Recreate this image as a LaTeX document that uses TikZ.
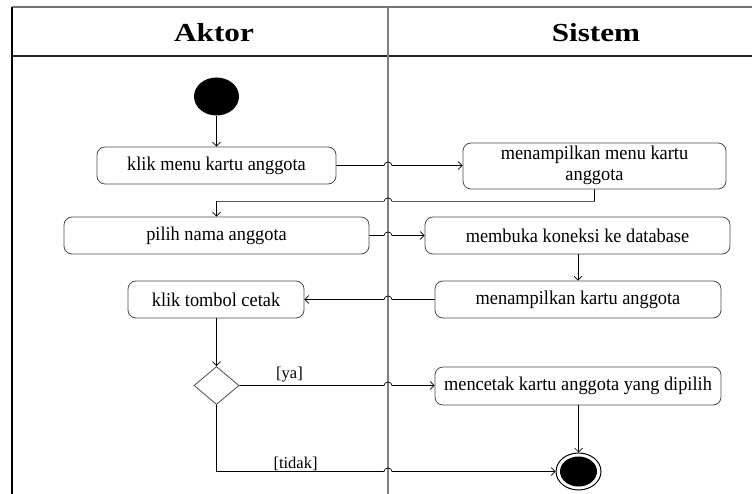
\documentclass[tikz,border=0pt]{standalone}
\usepackage{fontspec}
\usepackage{graphicx}
\setmainfont{Liberation Serif}
\usetikzlibrary{shapes.geometric,calc,arrows.meta}
\newcommand\boxtxt[1]{\scalebox{0.94}[1]{#1}}
\begin{document}
\begin{tikzpicture}[x=1pt,y=1pt,
  act/.style={draw=black!70, line width=0.8pt, rounded corners=8pt, align=center, inner sep=2pt, font=\fontsize{19.5}{21}\selectfont},
  conn/.style={line width=0.7pt, draw=black},
  arr/.style={conn, -{Straight Barb[length=4pt,width=8pt]}},
  guard/.style={font=\fontsize{16.5}{16}\selectfont, inner sep=0pt},
  hdr/.style={font=\fontsize{26}{26}\selectfont\bfseries, inner sep=0pt}]
\useasboundingbox (0,0) rectangle (752,-494);
\fill[white] (0,0) rectangle (752,-494);
% frame and lanes
\draw[black!55, line width=1.2pt] (12,-7) -- (752,-7);
\draw[black, line width=1.5pt] (12,-7) -- (12,-494);
\draw[black!85, line width=1.2pt] (12,-56) -- (752,-56);
\coordinate (dv) at (388,0);
\draw[black!50, line width=1.5pt] (388,-7) -- (388,-494);
\node[hdr] (hA) at (214,-33) {\scalebox{1.2}[1]{Aktor}};
\node[hdr] (hS) at (596,-33) {\scalebox{1.2}[1]{Sistem}};
% nodes
\node[ellipse, fill=black, inner sep=0pt, minimum width=45pt, minimum height=38pt] (start) at (216.5,-96.5) {};
\node[act, minimum width=239pt, minimum height=37pt] (b1) at (216.5,-165.5) {\boxtxt{klik menu kartu anggota}};
\node[act, minimum width=263pt, minimum height=46pt, inner sep=1pt] (b2) at (594.5,-166) {\boxtxt{\begin{tabular}{@{}c@{}}menampilkan menu kartu\\anggota\end{tabular}}};
\node[act, minimum width=305pt, minimum height=37pt] (b3) at (216.5,-235.5) {\boxtxt{pilih nama anggota}};
\node[act, minimum width=305pt, minimum height=37pt] (b4) at (577.5,-235.5) {\boxtxt{membuka koneksi ke database}};
\node[act, minimum width=286pt, minimum height=37pt] (b5) at (578,-299.5) {\boxtxt{menampilkan kartu anggota}};
\node[act, minimum width=176pt, minimum height=37pt] (b6) at (216,-299.5) {\boxtxt{klik tombol cetak}};
\node[diamond, draw=black!70, line width=0.8pt, inner sep=0pt, minimum width=45pt, minimum height=38pt] (dia) at (216.5,-385.5) {};
\node[act, minimum width=286pt, minimum height=38pt] (b7) at (578,-386) {\boxtxt{mencetak kartu anggota yang dipilih}};
\node[ellipse, draw=black, line width=1pt, fill=white, inner sep=0pt, minimum width=45pt, minimum height=37pt] (end) at (578.5,-471.5) {};
\node[ellipse, fill=black, inner sep=0pt, minimum width=37pt, minimum height=30pt] (endin) at (end.center) {};
% connectors
\draw[arr] (start) -- (b1);
\draw[arr] (b1.east) -- ($(b1.east -| dv)+(-4,0)$) arc[start angle=180,end angle=0,x radius=4,y radius=3.5] -- (b2.west |- b1.east);
\coordinate (c1) at ($(b2.south)+(0,-12)$);
\coordinate (c2) at (c1 -| b3.north);
\draw[arr] (b2.south) -- (c1) -- ($(c1 -| dv)+(4,0)$) arc[start angle=0,end angle=180,x radius=4,y radius=3.5] -- (c2) -- (b3.north);
\draw[arr] (b3.east) -- ($(b3.east -| dv)+(-4,0)$) arc[start angle=180,end angle=0,x radius=4,y radius=3.5] -- (b4.west);
\draw[arr] (b4.south -| b5.north) -- (b5.north);
\draw[arr] (b5.west) -- ($(b5.west -| dv)+(4,0)$) arc[start angle=0,end angle=180,x radius=4,y radius=3.5] -- (b6.east);
\draw[arr] (b6.south -| dia.north) -- (dia.north);
\draw[arr] (dia.east) -- ($(dia.east -| dv)+(-4,0)$) arc[start angle=180,end angle=0,x radius=4,y radius=3.5] -- (b7.west |- dia.east);
\draw[arr] (b7.south -| end.north) -- (end.north);
\coordinate (c3) at (dia.south |- end.west);
\draw[arr] (dia.south) -- (c3) -- ($(c3 -| dv)+(-4,0)$) arc[start angle=180,end angle=0,x radius=4,y radius=3.5] -- (end.west);
% guards
\node[guard] (gya) at (289.5,-375) {[ya]};
\node[guard] (gtd) at (295.5,-464) {[tidak]};
\end{tikzpicture}
\end{document}
